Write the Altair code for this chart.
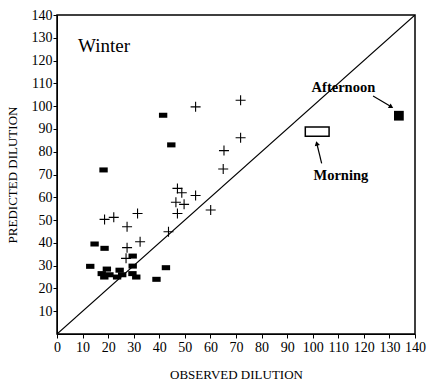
import altair as alt
import pandas as pd

# Crosses (+)
cross_x = [54.2, 71.8, 71.8, 65.3, 65.0, 47.1, 48.8, 54.2, 46.5, 49.7, 47.1, 60.1,
           18.6, 22.2, 31.5, 27.4, 32.5, 43.6, 27.4, 27.0]
cross_y = [99.7, 102.6, 86.1, 80.5, 72.4, 63.9, 62.0, 60.8, 57.8, 56.9, 52.9, 54.4,
           50.3, 51.2, 52.9, 47.1, 40.5, 44.9, 37.9, 33.2]

# Filled rectangles
sq_x = [41.5, 44.7, 18.2, 14.7, 18.6, 13.0, 29.6, 29.6, 42.6, 38.9,
        17.5, 19.5, 20.5, 18.5, 24.5, 25.5, 23.5, 29.5, 31.0]
sq_y = [96.0, 83.0, 72.0, 39.5, 37.6, 29.7, 34.2, 29.8, 29.1, 24.0,
        26.5, 28.5, 26.0, 25.0, 28.0, 26.0, 25.0, 26.5, 25.0]

afternoon = {"x": [133.7], "y": [95.8]}
morning = {"x": [97.1], "x2": [106.4], "y": [86.8], "y2": [90.9]}

diag_x = [0, 140]
diag_y = [0, 140]

labels_txt = ["Afternoon", "Morning"]
labels_x = [112.0, 111.0]
labels_y = [108.1, 69.3]

arrow_x = [123.6, 103.5]
arrow_y = [104.5, 74.9]
arrow_x2 = [130.7, 101.6]
arrow_y2 = [99.7, 83.6]
arrow_angle = [121, 346]

ticks = list(range(0, 141, 10))
yticks = list(range(10, 141, 10))

FONT = "Liberation Serif"

xs = alt.Scale(domain=[0, 140], nice=False)
ys = alt.Scale(domain=[0, 140], nice=False)

xaxis = alt.Axis(values=ticks, title="OBSERVED DILUTION", labelPadding=2, titlePadding=14)
yaxis = alt.Axis(values=yticks, title="PREDICTED DILUTION", labelPadding=1, titlePadding=12)

df_cross = pd.DataFrame({"x": cross_x, "y": cross_y})
df_sq = pd.DataFrame({"x": sq_x, "y": sq_y})
df_diag = pd.DataFrame({"x": diag_x, "y": diag_y})
df_aft = pd.DataFrame(afternoon)
df_morn = pd.DataFrame(morning)
df_lab = pd.DataFrame({"t": labels_txt, "x": labels_x, "y": labels_y})
df_arrow = pd.DataFrame({"x": arrow_x, "y": arrow_y, "x2": arrow_x2, "y2": arrow_y2,
                         "a": arrow_angle})
df_winter = pd.DataFrame({"t": ["Winter"], "x": [8.2], "y": [126.3]})

X = alt.X("x:Q", scale=xs, axis=xaxis)
Y = alt.Y("y:Q", scale=ys, axis=yaxis)

diag = alt.Chart(df_diag).mark_line(color="black", strokeWidth=1.2, clip=True).encode(x=X, y=Y)

crosses = alt.Chart(df_cross).mark_point(
    shape="M-1,0H1M0,-1V1", filled=False, color="black", strokeWidth=1.1, size=100, opacity=1
).encode(x=X, y=Y)

squares = alt.Chart(df_sq).mark_point(
    shape="M-1,-0.6H1V0.6H-1Z", filled=True, color="black", size=70, opacity=1
).encode(x=X, y=Y)

aft = alt.Chart(df_aft).mark_point(
    shape="square", filled=True, color="black", size=95, opacity=1
).encode(x=X, y=Y)

morn = alt.Chart(df_morn).mark_rect(fill="white", stroke="black", strokeWidth=1.5).encode(
    x=X, x2="x2:Q", y=Y, y2="y2:Q"
)

arrows = alt.Chart(df_arrow).mark_rule(color="black", strokeWidth=1.2).encode(
    x=X, y=Y, x2="x2:Q", y2="y2:Q"
)

heads = alt.Chart(df_arrow).mark_point(
    shape="triangle-up", filled=True, color="black", size=28, opacity=1
).encode(x=alt.X("x2:Q", scale=xs, axis=xaxis), y=alt.Y("y2:Q", scale=ys, axis=yaxis),
         angle=alt.Angle("a:Q", scale=None))

labs = alt.Chart(df_lab).mark_text(
    font=FONT, fontSize=14.5, fontWeight="bold", color="black", align="center", baseline="middle"
).encode(x=X, y=Y, text="t:N")

winter = alt.Chart(df_winter).mark_text(
    font=FONT, fontSize=19, color="black", align="left", baseline="middle"
).encode(x=X, y=Y, text="t:N")

chart = alt.layer(diag, crosses, squares, aft, morn, arrows, heads, labs, winter).properties(
    width=358, height=319,
    autosize=alt.AutoSizeParams(type="none"),
    padding={"left": 57, "top": 15, "right": 18, "bottom": 51},
    background="white",
).configure_view(stroke="black", strokeWidth=1.5).configure_axis(
    grid=False, tickSize=4, labelFontSize=14, titleFontSize=13, titleFontWeight="normal",
    labelFont=FONT, titleFont=FONT, domainColor="black", tickColor="black",
    labelColor="black", titleColor="black", labelOverlap=False, labelBound=False,
    labelFlush=False,
)

chart.save("out.html", embed_options={"renderer": "svg", "actions": False})
